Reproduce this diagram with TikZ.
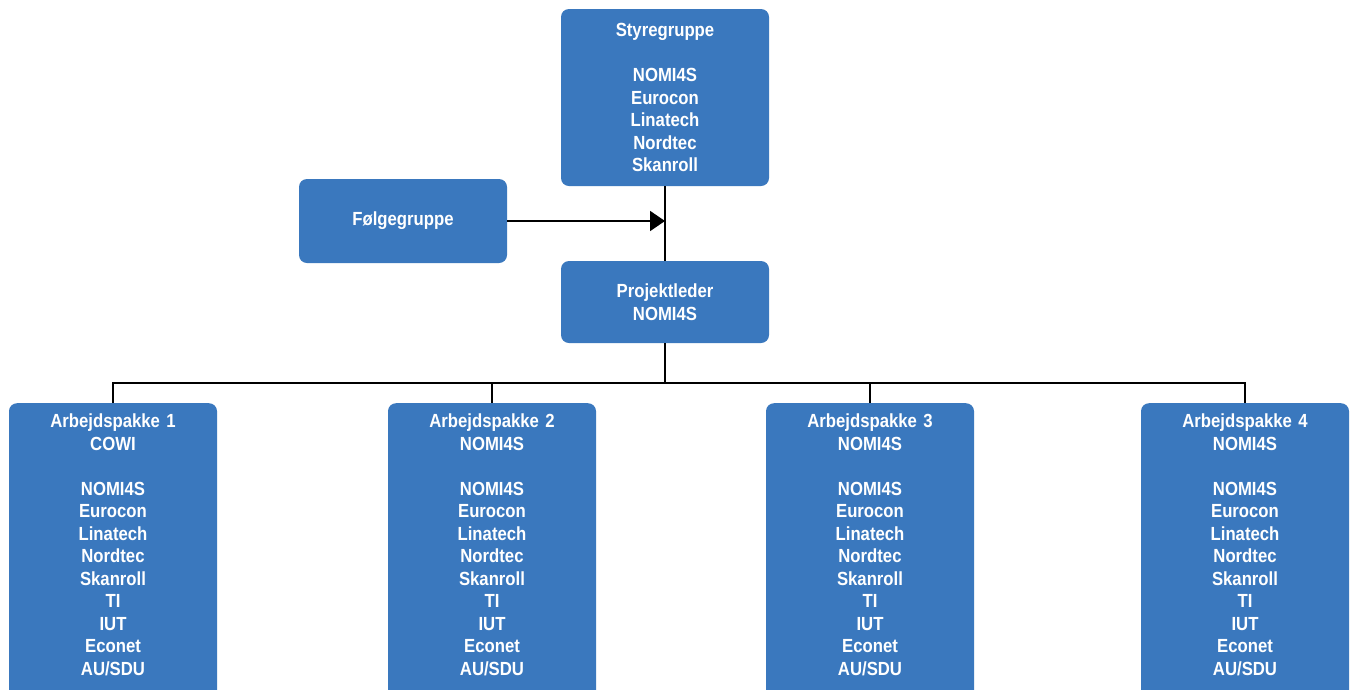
\documentclass[tikz,border=0pt]{standalone}
\usepackage{fontspec}
\newfontfamily\boxfont{Liberation Sans}[FakeStretch=0.88]
\usetikzlibrary{arrows.meta}
\definecolor{boxblue}{RGB}{58,120,190}
\tikzset{
  orgbox/.style={draw=none, fill=boxblue, rounded corners=8pt, text=white,
    font={\boxfont\bfseries\fontsize{19}{22.5}\selectfont}, align=center,
    minimum width=208pt, text width=200pt, inner xsep=4pt},
  wpbox/.style={orgbox, anchor=north, inner ysep=11pt},
  conn/.style={draw=black, line width=1.8pt},
  tip/.style={-{Triangle[length=15pt,width=20pt]}}
}
\begin{document}
\begin{tikzpicture}[x=1pt,y=-1pt]
\useasboundingbox (0,0) rectangle (1354,689);
\clip (0,0) rectangle (1354,689);
\fill[white] (0,0) rectangle (1354,689);

\node[orgbox, minimum height=177pt] (sty) at (665,97.5)
  {Styregruppe\\[22.5pt]NOMI4S\\Eurocon\\Linatech\\Nordtec\\Skanroll};
\node[orgbox, minimum height=84pt] (fol) at (403,221) {Følgegruppe};
\node[orgbox, minimum height=82pt] (pl) at (665,302) {Projektleder\\NOMI4S};

\node[wpbox] (a1) at (113,403)
  {Arbejdspakke 1\\COWI\\[22.5pt]NOMI4S\\Eurocon\\Linatech\\Nordtec\\Skanroll\\TI\\IUT\\Econet\\AU/SDU\\ \mbox{}};
\node[wpbox] (a2) at (492,403)
  {Arbejdspakke 2\\NOMI4S\\[22.5pt]NOMI4S\\Eurocon\\Linatech\\Nordtec\\Skanroll\\TI\\IUT\\Econet\\AU/SDU\\ \mbox{}};
\node[wpbox] (a3) at (870,403)
  {Arbejdspakke 3\\NOMI4S\\[22.5pt]NOMI4S\\Eurocon\\Linatech\\Nordtec\\Skanroll\\TI\\IUT\\Econet\\AU/SDU\\ \mbox{}};
\node[wpbox] (a4) at (1245,403)
  {Arbejdspakke 4\\NOMI4S\\[22.5pt]NOMI4S\\Eurocon\\Linatech\\Nordtec\\Skanroll\\TI\\IUT\\Econet\\AU/SDU\\ \mbox{}};

\coordinate (bus) at (665,383);
\draw[conn] (sty.south) -- (pl.north);
\draw[conn, tip] (fol.east) -- (fol.east -| sty.south);
\draw[conn] (pl.south) -- (bus);
\draw[conn] (a1.north) -- (a1.north |- bus) -- (a4.north |- bus) -- (a4.north);
\draw[conn] (a2.north) -- (a2.north |- bus);
\draw[conn] (a3.north) -- (a3.north |- bus);
\end{tikzpicture}
\end{document}
